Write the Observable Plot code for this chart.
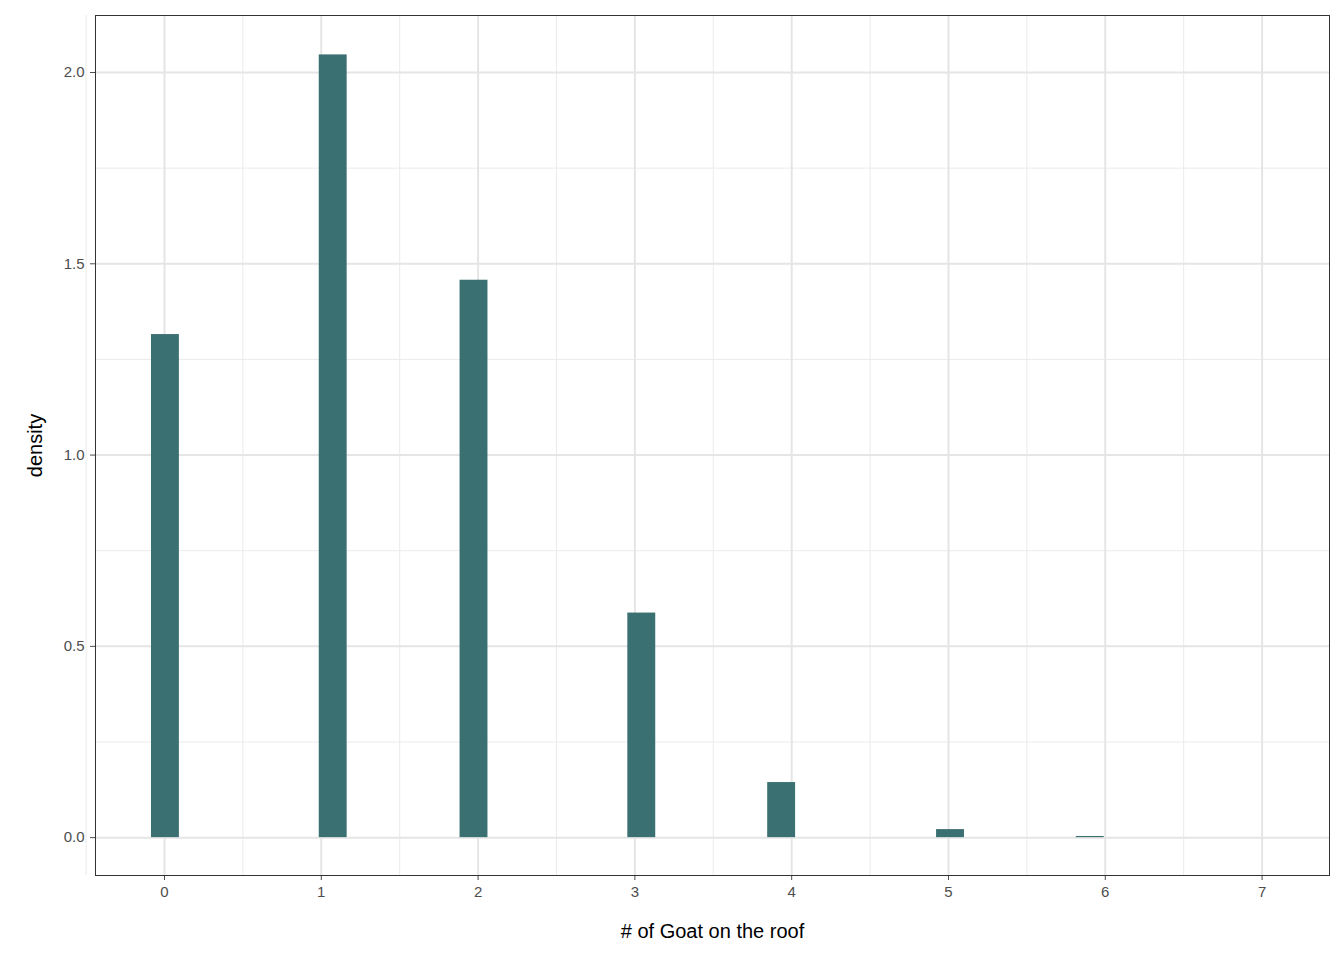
<!DOCTYPE html>
<html><head>
<script src="https://cdn.jsdelivr.net/npm/d3@7"></script>
<script src="https://cdn.jsdelivr.net/npm/@observablehq/plot@0.6"></script>
<style>body{margin:0;background:#fff;font-family:"Liberation Sans",Arial,sans-serif}</style>
</head><body>
<div class="chart-container"></div>
<script>
// bin left edges, bin width and density heights
const binStart = [-0.083, 0.987, 1.885, 2.955, 3.847, 4.924, 5.815];
const binWidth = 0.178;
const density = [1.315, 2.046, 1.457, 0.587, 0.144, 0.021, 0.003];
const xTicks = [0, 1, 2, 3, 4, 5, 6, 7];
const yTicks = [0, 0.5, 1.0, 1.5, 2.0];

const bins = binStart.map((s, i) => ({x1: s, x2: s + binWidth, y: density[i]}));
const xMinor = d3.range(-0.5, 7.5, 1);
const yMinor = [0.25, 0.75, 1.25, 1.75];

const plot = Plot.plot({
  width: 1344,
  height: 960,
  marginLeft: 95,
  marginRight: 15,
  marginTop: 15,
  marginBottom: 85,
  style: {fontFamily: "Liberation Sans, Arial, sans-serif", fontSize: "15px", color: "#4d4d4d"},
  x: {domain: [-0.44, 7.43], ticks: xTicks, tickFormat: d => d, label: "# of Goat on the roof", labelAnchor: "center", labelOffset: 65, tickSize: 5, tickPadding: 6},
  y: {domain: [-0.099, 2.149], ticks: yTicks, tickFormat: d3.format(".1f"), label: "density", labelAnchor: "center", labelOffset: 68, tickSize: 5, tickPadding: 6},
  marks: [
    Plot.ruleX(xMinor, {stroke: "#ebebeb", strokeWidth: 1}),
    Plot.ruleY(yMinor, {stroke: "#ebebeb", strokeWidth: 1}),
    Plot.ruleX(xTicks, {stroke: "#e5e5e5", strokeWidth: 2}),
    Plot.ruleY(yTicks, {stroke: "#e5e5e5", strokeWidth: 2}),
    Plot.rectY(bins, {x1: "x1", x2: "x2", y: "y", fill: "#3b7073"}),
    Plot.axisX({ticks: xTicks, tickFormat: d => d, label: "# of Goat on the roof", labelAnchor: "center", labelArrow: "none", labelOffset: 62, fontSize: 15, tickSize: 5, tickPadding: 6}),
    Plot.axisY({ticks: yTicks, tickFormat: d3.format(".1f"), label: "density", labelAnchor: "center", labelArrow: "none", labelOffset: 68, fontSize: 15, tickSize: 5, tickPadding: 6}),
    Plot.frame({stroke: "#333", strokeWidth: 1})
  ]
});
plot.querySelectorAll("g[aria-label='x-axis label'] text, g[aria-label='y-axis label'] text").forEach(t => {
  t.style.fontSize = "20px"; t.style.fill = "#000";
});
document.querySelector(".chart-container").appendChild(plot);
</script>
</body></html>
